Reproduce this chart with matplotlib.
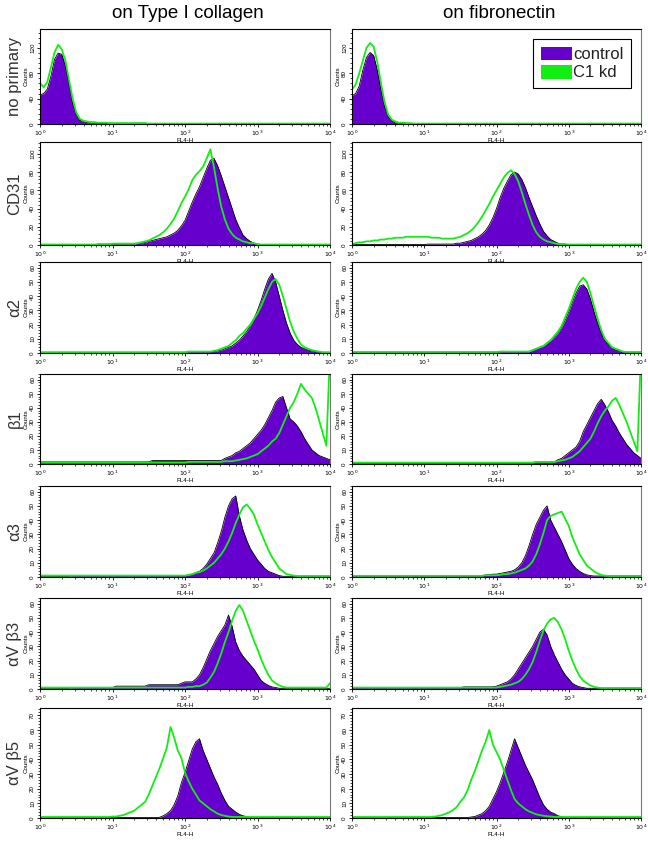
import numpy as np
import matplotlib
matplotlib.use("Agg")
import matplotlib.pyplot as plt
from matplotlib.patches import Patch
from matplotlib.ticker import AutoMinorLocator, FixedLocator, MultipleLocator

plt.rcParams['font.family'] = ['Liberation Sans', 'DejaVu Sans']

# FL4-H channel grid (log10 of intensity), 0.05 decade bins from 10^0 to 10^4
fl4h_log = np.linspace(0, 4, 81)

substrates = ["on Type I collagen", "on fibronectin"]
markers = ["no primary", "CD31", "α2", "β1", "α3", "αV β3", "αV β5"]
ymax = [150, 113, 64, 64, 64, 64, 75]
ystep = [40, 20, 10, 10, 10, 10, 10]
legend_labels = ["control", "C1 kd"]

# ---- counts: type I collagen ----
nop_col_ctrl = [46, 48, 55, 75, 102, 112, 110, 92, 64, 33, 15, 6, 4, 2, 2, 1.5, 1] + [1] * 8 + [0.5] * 6 + [0] * 50
nop_col_kd = [65, 58, 66, 89, 113, 125, 118, 100, 70, 40, 18, 8, 5, 4, 3, 3, 2, 2, 2] + [1.5] * 11 + [0.7] * 51
cd31_col_ctrl = [0.5] * 16 + [1] * 11 + [2, 2, 3, 4, 5, 6, 7, 8, 9, 11, 13, 16, 21, 27, 37, 47, 56, 64, 74, 84,
                                         93, 95, 87, 76, 64, 52, 40, 28, 19, 11, 7, 4, 2, 1] + [0.3] * 20
cd31_col_kd = [0.5] * 20 + [1.5] * 7 + [2, 3, 4, 5, 7, 9, 11, 14, 18, 23, 29, 37, 46, 53, 61, 71, 77, 81, 86, 95,
                                        105, 85, 62, 42, 28, 18, 12, 8, 6, 4, 3, 2, 2, 1] + [0.5] * 20
a2_col_ctrl = [0.5] * 41 + [1] * 8 + [1.5, 2, 3, 4, 5, 7, 9, 12, 15, 19, 24, 30, 37, 45, 52, 56, 50, 40, 30, 21,
                                      14, 9, 6, 4, 3, 2, 1.5, 1] + [0.5] * 4
a2_col_kd = [0.5] * 41 + [1] * 7 + [1.5, 2, 3, 4, 5, 7, 9, 12, 14, 17, 20, 24, 28, 33, 39, 45, 50, 52, 48, 40,
                                    31, 22, 15, 10, 6, 4, 3, 2, 1.5, 1] + [0.5] * 3
b1_col_ctrl = [1.5] * 31 + [2.5] * 20 + [4, 5, 6, 8, 9, 11, 13, 15, 18, 21, 24, 28, 33, 38, 44, 47, 48, 40, 32, 30,
                                        27, 23, 18, 14, 10, 8, 6, 5, 4, 3]
b1_col_kd = [1] * 41 + [1.5] * 10 + [2, 2, 2, 2.5, 3, 3.5, 4, 5, 6, 7, 9, 11, 13, 16, 18, 22, 28, 34, 40, 44,
                                     50, 57, 53, 50, 47, 40, 31, 22, 13, 80]
a3_col_ctrl = [0.5] * 9 + [1] * 32 + [1.5, 2, 3, 4, 6, 9, 13, 17, 24, 32, 42, 50, 55, 57, 43, 33, 26, 20, 16, 12,
                                     9, 6, 4, 3, 2, 1] + [0.5] * 14
a3_col_kd = [1] * 41 + [1.5, 2, 3, 3.5, 4.5, 6, 8, 10, 13, 16, 20, 25, 31, 38, 44, 49, 51, 48, 44, 37,
                        31, 25, 19, 14, 10, 6, 4, 2, 1.5, 1] + [0.7] * 10
avb3_col_ctrl = [0.5] * 9 + [1] * 12 + [2] * 9 + [3] * 9 + [4, 5, 5, 5, 7, 10, 15, 21, 27, 32, 37, 41, 45, 52, 44,
                                                            33, 27, 23, 20, 17, 14, 10, 6, 4, 2.5, 1.5, 1] + [0.5] * 15
avb3_col_kd = [1] * 41 + [1.5, 1.5, 2, 2, 3, 4.5, 8, 12, 18, 25, 33, 40, 48, 55, 59, 55, 48, 41, 34, 28,
                          21, 15, 10, 6, 4, 2.5, 1.5, 1] + [1] * 11 + [4]
avb5_col_ctrl = [0.3] * 33 + [0.5, 1.5, 3, 5, 9, 15, 24, 31, 39, 47, 52, 54, 46, 40, 34, 28, 23, 17, 12, 8,
                              6, 4, 2.5, 1.5, 1] + [0.3] * 23
avb5_col_kd = [0.7] * 20 + [1, 1, 1.5, 2, 3, 4, 5, 7, 9, 11, 16, 22, 28, 34, 41, 48, 62, 55, 46, 41,
                            31, 25, 20, 16, 12, 10, 8, 6, 4.5, 3, 2, 1.5, 1] + [0.7] * 28

# ---- counts: fibronectin ----
nop_fn_ctrl = [45, 48, 60, 85, 105, 113, 108, 85, 55, 28, 12, 5, 2, 1, 1] + [0] * 66
nop_fn_kd = [55, 62, 80, 100, 120, 128, 122, 98, 65, 35, 15, 7, 4, 2, 2, 1.5, 1.5] + [0.7] * 64
cd31_fn_ctrl = [0.5] * 21 + [1] * 8 + [2, 2, 3, 4, 5, 7, 9, 12, 16, 22, 30, 40, 52, 62, 70, 77, 80, 78, 72, 63,
                                      52, 42, 32, 23, 15, 10, 6, 4, 2, 1, 1, 0.5] + [0.3] * 20
cd31_fn_kd = [1, 2, 3, 3, 4, 4, 5, 5, 6, 6, 7, 7, 8, 8, 8, 9, 9, 9, 9, 9, 9, 9, 8, 8, 8, 7, 7, 7, 7, 8,
              9, 11, 13, 16, 20, 25, 31, 38, 45, 53, 60, 67, 74, 79, 82, 78, 70, 58, 45, 33,
              22, 14, 9, 6, 4, 3, 2, 1, 1] + [0.5] * 22
a2_fn_ctrl = [0.5] * 41 + [1] * 9 + [2, 3, 4, 5, 7, 9, 11, 14, 18, 23, 29, 36, 42, 47, 48, 45, 38, 29, 21, 14,
                                    9, 6, 4, 2, 1.5, 1, 0.5] + [0.5] * 4
a2_fn_kd = [0.7] * 41 + [1] * 9 + [2, 3, 4, 5, 7, 9, 12, 15, 19, 25, 31, 38, 45, 50, 53, 50, 42, 33, 24, 16,
                                  10, 7, 4, 3, 2, 1, 0.7] + [0.7] * 4
b1_fn_ctrl = [1] * 51 + [1.5] * 6 + [3, 4, 6, 8, 10, 12, 16, 23, 28, 33, 38, 43, 46, 42, 37, 31, 27, 22, 18, 14,
                                    11, 8, 6, 4]
b1_fn_kd = [1] * 51 + [1.5] * 6 + [2, 2.5, 3, 4, 5, 7, 9, 12, 15, 18, 23, 29, 34, 38, 41, 45, 47, 42, 36, 30,
                                  23, 16, 9, 80]
a3_fn_ctrl = [1] * 37 + [1.5, 1.5, 2, 2, 2.5, 3, 3.5, 4, 5, 7, 10, 15, 22, 30, 37, 42, 47, 50, 40, 35,
                         30, 25, 19, 13, 9, 6, 4, 2.5, 1.5, 1] + [0.7] * 14
a3_fn_kd = [0.8] * 37 + [1.2, 1.2, 1.2, 1.2, 1.5, 2, 2, 2.5, 3, 4, 5, 6, 8, 11, 16, 23, 31, 40, 43, 44,
                         45, 46, 41, 36, 28, 22, 16, 12, 8, 6, 4, 2.5, 1.5, 1] + [0.7] * 10
avb3_fn_ctrl = [1] * 31 + [1.5] * 9 + [2, 3, 4, 5, 7, 10, 14, 18, 22, 26, 30, 35, 40, 42, 38, 30, 24, 19, 14, 10,
                                      7, 4, 2.5, 1.5, 1] + [0.5] * 16
avb3_fn_kd = [1] * 41 + [1.5, 2, 2.5, 3, 4, 5, 7, 10, 14, 19, 26, 34, 41, 46, 49, 50, 47, 42, 35, 27,
                         20, 14, 9, 6, 4, 2.5, 1.5, 1] + [0.7] * 12
avb5_fn_ctrl = [0.3] * 33 + [0.7, 1, 2, 3, 5, 8, 13, 18, 24, 31, 38, 46, 54, 48, 42, 36, 31, 26, 20, 14,
                             9, 6, 4, 3, 1.5, 1] + [0.3] * 22
avb5_fn_kd = [0.7] * 23 + [1, 1.5, 2, 3, 4, 5.5, 7.5, 11, 14, 19, 26, 32, 39, 46, 52, 60, 50, 45, 40, 33,
                           26, 19, 13, 10, 8, 6, 4.5, 3.5, 2.5, 2, 1.5, 1.2, 1] + [0.7] * 25

control = [
    [nop_col_ctrl, cd31_col_ctrl, a2_col_ctrl, b1_col_ctrl, a3_col_ctrl, avb3_col_ctrl, avb5_col_ctrl],
    [nop_fn_ctrl, cd31_fn_ctrl, a2_fn_ctrl, b1_fn_ctrl, a3_fn_ctrl, avb3_fn_ctrl, avb5_fn_ctrl],
]
knockdown = [
    [nop_col_kd, cd31_col_kd, a2_col_kd, b1_col_kd, a3_col_kd, avb3_col_kd, avb5_col_kd],
    [nop_fn_kd, cd31_fn_kd, a2_fn_kd, b1_fn_kd, a3_fn_kd, avb3_fn_kd, avb5_fn_kd],
]

PURPLE = '#6600CC'
GREEN = '#11EE11'

W, H = 648, 844
fig = plt.figure(figsize=(W / 100, H / 100), dpi=100)

# panel frames in pixels
col_x = [(40, 330), (352, 641)]
row_y = [(29, 124), (142, 245), (262, 353), (374, 464), (486, 577), (598, 689), (708, 818)]

minor_x = [np.log10(k) + d for d in range(4) for k in range(2, 10)]

axes = []
for r in range(7):
    row_axes = []
    for c in range(2):
        x0, x1 = col_x[c]
        y0, y1 = row_y[r]
        ax = fig.add_axes([x0 / W, 1 - y1 / H, (x1 - x0) / W, (y1 - y0) / H])
        ctrl = np.array(control[c][r], dtype=float)
        kd = np.array(knockdown[c][r], dtype=float)
        assert len(ctrl) == 81 and len(kd) == 81
        ax.fill_between(fl4h_log, ctrl, color=PURPLE, lw=0)
        ax.plot(fl4h_log, ctrl, color='black', lw=0.6)
        ax.plot(fl4h_log, kd, color=GREEN, lw=1.3)

        ax.set_xlim(0, 4)
        ax.set_ylim(0, ymax[r])
        ax.set_xticks(range(5))
        ax.set_xticklabels([r'$10^{%d}$' % d for d in range(5)])
        ax.xaxis.set_minor_locator(FixedLocator(minor_x))
        ax.yaxis.set_major_locator(MultipleLocator(ystep[r]))
        ax.yaxis.set_minor_locator(AutoMinorLocator(5))
        ax.tick_params(axis='both', which='major', labelsize=4.5, length=2.5, width=0.6, pad=1)
        ax.tick_params(axis='both', which='minor', length=1.3, width=0.5)
        for lab in ax.get_yticklabels():
            lab.set_rotation(90)
            lab.set_va('center')
        ax.set_xlabel('FL4-H', fontsize=4.5, labelpad=0)
        ax.set_ylabel('Counts', fontsize=4.5, labelpad=1)
        for sp in ax.spines.values():
            sp.set_linewidth(0.8)
        ax.spines['right'].set_color('#777777')
        row_axes.append(ax)
    axes.append(row_axes)

    yc = (row_y[r][0] + row_y[r][1]) / 2
    fig.text(15 / W, 1 - yc / H, markers[r], rotation=90, ha='center', va='center',
             fontsize=12, color='#333333')

for c, title in enumerate(substrates):
    xc = (col_x[c][0] + col_x[c][1]) / 2
    fig.text(xc / W + 0.005, 1 - 14 / H, title, ha='center', va='center', fontsize=13.5)

handles = [Patch(facecolor=PURPLE, edgecolor='none'), Patch(facecolor=GREEN, edgecolor='none')]
leg = axes[0][1].legend(handles, legend_labels, loc='upper right', fontsize=12, frameon=True,
                        fancybox=False, edgecolor='black', framealpha=1, borderpad=0.45,
                        handlelength=1.9, handleheight=0.9, handletextpad=0.05, labelspacing=0.15,
                        borderaxespad=0.6)
leg.get_frame().set_linewidth(0.8)
for t in leg.get_texts():
    t.set_color('#222222')

fig.savefig('out.png', dpi=100)
